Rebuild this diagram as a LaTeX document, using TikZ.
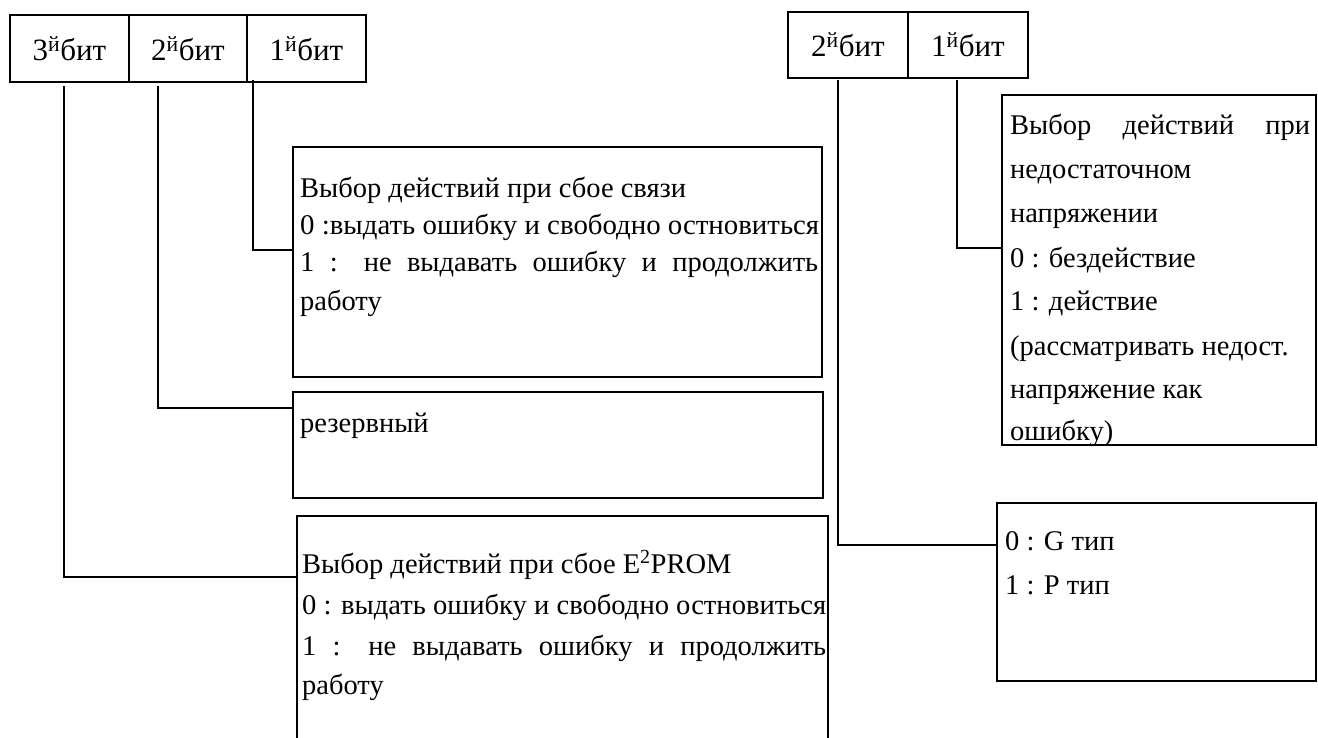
\documentclass[tikz,border=0pt]{standalone}
\usepackage{fontspec}
\setmainfont{Liberation Serif}
\usepackage{graphicx}
\begin{document}
\begin{tikzpicture}[x=1pt,y=-1pt,
  hdr/.style={draw, line width=1.8pt, minimum width=119pt, minimum height=67pt, inner sep=0pt, font=\fontsize{31}{37}\selectfont},
  infobox/.style={draw, line width=2pt, inner sep=0pt},
  conn/.style={line width=2.6pt},
  txt/.style={anchor=base west, inner sep=0pt, font=\fontsize{28.5}{34}\selectfont}]
\useasboundingbox (0,0) rectangle (1318,738);
\clip (0,0) rectangle (1318,738);
% headers left
\node[hdr] (h3) at (69.5,48.5) {3\textsuperscript{й}бит};
\node[hdr, minimum width=118pt] (h2) at (188,48.5) {2\textsuperscript{й}бит};
\node[hdr] (h1) at (306.5,48.5) {1\textsuperscript{й}бит};
% headers right
\node[hdr, minimum width=120pt, minimum height=66pt] (g2) at (848,45) {2\textsuperscript{й}бит};
\node[hdr, minimum width=120pt, minimum height=66pt] (g1) at (968,45) {1\textsuperscript{й}бит};
% boxes
\node[infobox, minimum width=529pt, minimum height=230pt] (b1) at (557.5,262) {};
\node[infobox, minimum width=530pt, minimum height=106pt] (b2) at (558,445) {};
\node[infobox, minimum width=531pt, minimum height=264pt] (b3) at (562.5,648) {};
\node[infobox, minimum width=314pt, minimum height=350pt] (r1) at (1159,270) {};
\node[infobox, minimum width=319pt, minimum height=178pt] (r2) at (1156.5,592) {};
% connector points
\coordinate (c3) at (64,86);
\coordinate (e3) at (297,577);
\coordinate (c2) at (158,86);
\coordinate (e2) at (293,408);
\coordinate (c1) at (253,80);
\coordinate (e1) at (292,250);
\coordinate (d2) at (838,80);
\coordinate (f2) at (997,545);
\coordinate (d1) at (957,80);
\coordinate (f1) at (1002,248);
\draw[conn] (c3) |- (e3);
\draw[conn] (c2) |- (e2);
\draw[conn] (c1) |- (e1);
\draw[conn] (d2) |- (f2);
\draw[conn] (d1) |- (f1);
% box 1 text
\node[txt] (t1a) at (300,198) {Выбор действий при сбое связи};
\node[txt] (t1b) at (300,235) {\resizebox{519pt}{\height}{0 :выдать ошибку и свободно остновиться}};
\node[txt] (t1c) at (300,272) {\makebox[518pt][s]{1 : не выдавать ошибку и продолжить}};
\node[txt] (t1d) at (300,310) {работу};
% box 2 text
\node[txt] (t2a) at (300,432) {резервный};
% box 3 text
\node[txt] (t3a) at (302,573) {Выбор действий при сбое E\textsuperscript{2}PROM};
\node[txt] (t3b) at (302,614) {\resizebox{524pt}{\height}{0 : выдать ошибку и свободно остновиться}};
\node[txt] (t3c) at (302,655) {\makebox[524pt][s]{1 : не выдавать ошибку и продолжить}};
\node[txt] (t3d) at (302,694) {работу};
% right box 1 text
\node[txt] (u1) at (1010,135) {\makebox[300pt][s]{Выбор действий при}};
\node[txt] (u2) at (1010,179) {недостаточном};
\node[txt] (u3) at (1010,223) {напряжении};
\node[txt] (u4) at (1010,268) {0 : бездействие};
\node[txt] (u5) at (1010,311) {1 : действие};
\node[txt] (u6) at (1010,355) {(рассматривать недост.};
\node[txt] (u7) at (1010,398) {напряжение как};
\node[txt] (u8) at (1010,440) {ошибку)};
% right box 2 text
\node[txt] (v1) at (1005,550) {0 : G тип};
\node[txt] (v2) at (1005,594) {1 : P тип};
\end{tikzpicture}
\end{document}
